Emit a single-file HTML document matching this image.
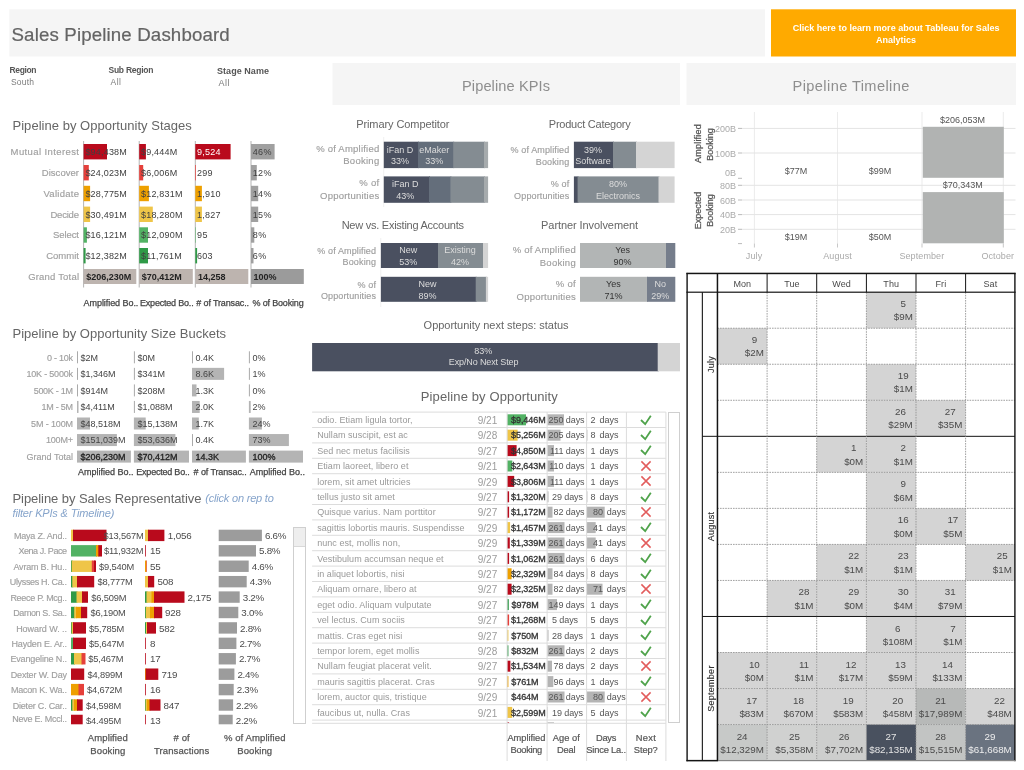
<!DOCTYPE html>
<html lang="en">
<head>
<meta charset="utf-8">
<title>Sales Pipeline Dashboard</title>
<style>
html,body{margin:0;padding:0;background:#fff}
body{width:1024px;height:770px;position:relative;overflow:hidden;font-family:"Liberation Sans",sans-serif;color:#555}
div,span,svg,section{position:absolute;display:block}
section{left:0;top:0;width:1024px;height:770px}
span{white-space:nowrap}
</style>
</head>
<body>
<svg class="marks" width="1024" height="770" viewBox="0 0 1024 770" style="left:0;top:0" aria-hidden="true">
<rect x="9.3" y="9.3" width="755.7" height="47.2" fill="#f5f5f5"/>
<rect x="771" y="9.3" width="245" height="47.2" fill="#ffaa00"/>
<rect x="332.5" y="63" width="347.5" height="42" fill="#f5f5f5"/>
<rect x="686.5" y="63" width="329.5" height="42" fill="#f5f5f5"/>
<rect x="83.1" y="141" width="1" height="146.5" fill="#b4b4b4"/>
<rect x="138.7" y="141" width="1" height="146.5" fill="#b4b4b4"/>
<rect x="194.8" y="141" width="1" height="146.5" fill="#b4b4b4"/>
<rect x="250.5" y="141" width="1" height="146.5" fill="#b4b4b4"/>
<rect x="83.6" y="144" width="23.4" height="15.4" fill="#b90a1c"/>
<rect x="139.2" y="144" width="6.7" height="15.4" fill="#b90a1c"/>
<rect x="195.3" y="144" width="35.3" height="15.4" fill="#b90a1c"/>
<rect x="251" y="144" width="23.6" height="15.4" fill="#a0a0a0"/>
<rect x="83.6" y="165" width="5.2" height="15.4" fill="#e5403b"/>
<rect x="139.2" y="165" width="4" height="15.4" fill="#e5403b"/>
<rect x="195.3" y="165" width="0.7" height="15.4" fill="#e5403b"/>
<rect x="251" y="165" width="5.8" height="15.4" fill="#a0a0a0"/>
<rect x="83.6" y="185.8" width="6.5" height="15.4" fill="#eea000"/>
<rect x="139.2" y="185.8" width="9.7" height="15.4" fill="#eea000"/>
<rect x="195.3" y="185.8" width="6.6" height="15.4" fill="#eea000"/>
<rect x="251" y="185.8" width="7.2" height="15.4" fill="#a0a0a0"/>
<rect x="83.6" y="206.6" width="6.5" height="15.4" fill="#efc548"/>
<rect x="139.2" y="206.6" width="13.6" height="15.4" fill="#efc548"/>
<rect x="195.3" y="206.6" width="6.6" height="15.4" fill="#efc548"/>
<rect x="251" y="206.6" width="7.2" height="15.4" fill="#a0a0a0"/>
<rect x="83.6" y="227.3" width="3.3" height="15.4" fill="#52b264"/>
<rect x="139.2" y="227.3" width="8.8" height="15.4" fill="#52b264"/>
<rect x="195.3" y="227.3" width="0.5" height="15.4" fill="#52b264"/>
<rect x="251" y="227.3" width="3.3" height="15.4" fill="#a0a0a0"/>
<rect x="83.6" y="248" width="2" height="15.4" fill="#2f9a47"/>
<rect x="139.2" y="248" width="8.8" height="15.4" fill="#2f9a47"/>
<rect x="195.3" y="248" width="1.8" height="15.4" fill="#2f9a47"/>
<rect x="251" y="248" width="2.5" height="15.4" fill="#a0a0a0"/>
<rect x="83.6" y="269" width="52.7" height="15" fill="#bdb4af"/>
<rect x="139.2" y="269" width="53.6" height="15" fill="#bdb4af"/>
<rect x="195.3" y="269" width="53" height="15" fill="#bdb4af"/>
<rect x="251" y="269" width="52.8" height="15" fill="#9b9b9b"/>
<rect x="77" y="351.3" width="1" height="12" fill="#aaa"/>
<rect x="133.9" y="351.3" width="1" height="12" fill="#aaa"/>
<rect x="192" y="351.3" width="1" height="12" fill="#aaa"/>
<rect x="248.9" y="351.3" width="1" height="12" fill="#aaa"/>
<rect x="77" y="367.85" width="1" height="12" fill="#aaa"/>
<rect x="133.9" y="367.85" width="1" height="12" fill="#aaa"/>
<rect x="192" y="367.85" width="32.1" height="12" fill="#b4b4b4"/>
<rect x="248.9" y="367.85" width="1" height="12" fill="#aaa"/>
<rect x="77" y="384.4" width="1" height="12" fill="#aaa"/>
<rect x="133.9" y="384.4" width="1" height="12" fill="#aaa"/>
<rect x="192" y="384.4" width="4.5" height="12" fill="#b4b4b4"/>
<rect x="248.9" y="384.4" width="1" height="12" fill="#aaa"/>
<rect x="77" y="400.95" width="1.5" height="12" fill="#b4b4b4"/>
<rect x="133.9" y="400.95" width="1" height="12" fill="#aaa"/>
<rect x="192" y="400.95" width="7.7" height="12" fill="#b4b4b4"/>
<rect x="248.9" y="400.95" width="1.8" height="12" fill="#b4b4b4"/>
<rect x="77" y="417.5" width="13" height="12" fill="#b4b4b4"/>
<rect x="133.9" y="417.5" width="11.8" height="12" fill="#b4b4b4"/>
<rect x="192" y="417.5" width="6.8" height="12" fill="#b4b4b4"/>
<rect x="248.9" y="417.5" width="13" height="12" fill="#b4b4b4"/>
<rect x="77" y="434.05" width="39.9" height="12" fill="#b4b4b4"/>
<rect x="133.9" y="434.05" width="41.5" height="12" fill="#b4b4b4"/>
<rect x="192" y="434.05" width="1" height="12" fill="#aaa"/>
<rect x="248.9" y="434.05" width="40" height="12" fill="#b4b4b4"/>
<rect x="77" y="450.6" width="53.9" height="12" fill="#b4b4b4"/>
<rect x="133.9" y="450.6" width="55.1" height="12" fill="#b4b4b4"/>
<rect x="192" y="450.6" width="53.9" height="12" fill="#b4b4b4"/>
<rect x="248.9" y="450.6" width="54.1" height="12" fill="#b4b4b4"/>
<rect x="71" y="529.7" width="3" height="11.4" fill="#efc548"/>
<rect x="73" y="529.7" width="33.5" height="11.4" fill="#b90a1c"/>
<rect x="145" y="529.7" width="4" height="11.4" fill="#efc548"/>
<rect x="148" y="529.7" width="16.4" height="11.4" fill="#b90a1c"/>
<rect x="218.7" y="529.7" width="43.2" height="11.4" fill="#9c9c9c"/>
<rect x="71" y="545.12" width="26" height="11.4" fill="#52b264"/>
<rect x="96" y="545.12" width="3.3" height="11.4" fill="#eea000"/>
<rect x="98.3" y="545.12" width="3.7" height="11.4" fill="#b90a1c"/>
<rect x="145" y="545.12" width="0.8" height="11.4" fill="#b90a1c"/>
<rect x="218.7" y="545.12" width="37.3" height="11.4" fill="#9c9c9c"/>
<rect x="71" y="560.54" width="1.7" height="11.4" fill="#2f9a47"/>
<rect x="71.7" y="560.54" width="21.1" height="11.4" fill="#efc548"/>
<rect x="91.8" y="560.54" width="3.2" height="11.4" fill="#e5403b"/>
<rect x="94" y="560.54" width="2" height="11.4" fill="#b90a1c"/>
<rect x="145" y="560.54" width="1.6" height="11.4" fill="#eea000"/>
<rect x="146" y="560.54" width="0.6" height="11.4" fill="#e5403b"/>
<rect x="218.7" y="560.54" width="30" height="11.4" fill="#9c9c9c"/>
<rect x="71" y="575.96" width="2.3" height="11.4" fill="#2f9a47"/>
<rect x="72.3" y="575.96" width="5.7" height="11.4" fill="#efc548"/>
<rect x="77" y="575.96" width="17.2" height="11.4" fill="#b90a1c"/>
<rect x="145" y="575.96" width="4" height="11.4" fill="#efc548"/>
<rect x="148" y="575.96" width="6.2" height="11.4" fill="#b90a1c"/>
<rect x="218.7" y="575.96" width="28" height="11.4" fill="#9c9c9c"/>
<rect x="71" y="591.38" width="6.5" height="11.4" fill="#2f9a47"/>
<rect x="76.5" y="591.38" width="6.5" height="11.4" fill="#efc548"/>
<rect x="82" y="591.38" width="6" height="11.4" fill="#b90a1c"/>
<rect x="145" y="591.38" width="2.5" height="11.4" fill="#2f9a47"/>
<rect x="146.5" y="591.38" width="6" height="11.4" fill="#efc548"/>
<rect x="151.5" y="591.38" width="3.5" height="11.4" fill="#eea000"/>
<rect x="154" y="591.38" width="30.5" height="11.4" fill="#b90a1c"/>
<rect x="218.7" y="591.38" width="21" height="11.4" fill="#9c9c9c"/>
<rect x="71" y="606.8" width="4.2" height="11.4" fill="#2f9a47"/>
<rect x="74.2" y="606.8" width="2.8" height="11.4" fill="#efc548"/>
<rect x="76" y="606.8" width="6" height="11.4" fill="#eea000"/>
<rect x="81" y="606.8" width="6.2" height="11.4" fill="#b90a1c"/>
<rect x="145" y="606.8" width="1.8" height="11.4" fill="#2f9a47"/>
<rect x="145.8" y="606.8" width="5.2" height="11.4" fill="#efc548"/>
<rect x="150" y="606.8" width="5" height="11.4" fill="#eea000"/>
<rect x="154" y="606.8" width="8.2" height="11.4" fill="#b90a1c"/>
<rect x="218.7" y="606.8" width="19.6" height="11.4" fill="#9c9c9c"/>
<rect x="71" y="622.22" width="1.7" height="11.4" fill="#2f9a47"/>
<rect x="71.7" y="622.22" width="2.3" height="11.4" fill="#efc548"/>
<rect x="73" y="622.22" width="13" height="11.4" fill="#b90a1c"/>
<rect x="145" y="622.22" width="2" height="11.4" fill="#2f9a47"/>
<rect x="146" y="622.22" width="2" height="11.4" fill="#efc548"/>
<rect x="147" y="622.22" width="9" height="11.4" fill="#b90a1c"/>
<rect x="218.7" y="622.22" width="18.3" height="11.4" fill="#9c9c9c"/>
<rect x="71" y="637.64" width="3" height="11.4" fill="#52b264"/>
<rect x="73" y="637.64" width="13" height="11.4" fill="#b90a1c"/>
<rect x="145" y="637.64" width="0.8" height="11.4" fill="#b90a1c"/>
<rect x="218.7" y="637.64" width="17.7" height="11.4" fill="#9c9c9c"/>
<rect x="71" y="653.06" width="4" height="11.4" fill="#2f9a47"/>
<rect x="74" y="653.06" width="8.5" height="11.4" fill="#efc548"/>
<rect x="81.5" y="653.06" width="4" height="11.4" fill="#e5403b"/>
<rect x="145" y="653.06" width="0.8" height="11.4" fill="#b90a1c"/>
<rect x="218.7" y="653.06" width="17.2" height="11.4" fill="#9c9c9c"/>
<rect x="71" y="668.48" width="13.2" height="11.4" fill="#b90a1c"/>
<rect x="145" y="668.48" width="1.6" height="11.4" fill="#eea000"/>
<rect x="145.6" y="668.48" width="12.7" height="11.4" fill="#b90a1c"/>
<rect x="218.7" y="668.48" width="15.7" height="11.4" fill="#9c9c9c"/>
<rect x="71" y="683.9" width="8.5" height="11.4" fill="#eea000"/>
<rect x="78.5" y="683.9" width="5.5" height="11.4" fill="#e5403b"/>
<rect x="145" y="683.9" width="0.8" height="11.4" fill="#b90a1c"/>
<rect x="218.7" y="683.9" width="15" height="11.4" fill="#9c9c9c"/>
<rect x="71" y="699.32" width="2.3" height="11.4" fill="#2f9a47"/>
<rect x="72.3" y="699.32" width="2.7" height="11.4" fill="#efc548"/>
<rect x="74" y="699.32" width="4" height="11.4" fill="#eea000"/>
<rect x="77" y="699.32" width="5.7" height="11.4" fill="#b90a1c"/>
<rect x="145" y="699.32" width="1.6" height="11.4" fill="#2f9a47"/>
<rect x="145.6" y="699.32" width="2.4" height="11.4" fill="#efc548"/>
<rect x="147" y="699.32" width="3.5" height="11.4" fill="#eea000"/>
<rect x="149.5" y="699.32" width="11" height="11.4" fill="#b90a1c"/>
<rect x="218.7" y="699.32" width="14.4" height="11.4" fill="#9c9c9c"/>
<rect x="71" y="714.74" width="11.7" height="9.56" fill="#b90a1c"/>
<rect x="145" y="714.74" width="0.8" height="9.56" fill="#b90a1c"/>
<rect x="218.7" y="714.74" width="14" height="9.56" fill="#9c9c9c"/>
<rect x="383.2" y="137" width="1" height="70" fill="#f0f0f0"/>
<rect x="380.3" y="238" width="1" height="69" fill="#f0f0f0"/>
<rect x="383.8" y="141.7" width="35.2" height="26.4" fill="#4a5060"/>
<rect x="418" y="141.7" width="36.2" height="26.4" fill="#646e7b"/>
<rect x="453.2" y="141.7" width="31.8" height="26.4" fill="#848c92"/>
<rect x="484" y="141.7" width="4.1" height="26.4" fill="#a6abad"/>
<rect x="383.8" y="176.4" width="46.2" height="26.4" fill="#4a5060"/>
<rect x="429" y="176.4" width="22.4" height="26.4" fill="#646e7b"/>
<rect x="450.4" y="176.4" width="34.6" height="26.4" fill="#848c92"/>
<rect x="484" y="176.4" width="4.1" height="26.4" fill="#a6abad"/>
<rect x="573.9" y="141.7" width="40.1" height="26.4" fill="#4a5060"/>
<rect x="613" y="141.7" width="24" height="26.4" fill="#848c92"/>
<rect x="636" y="141.7" width="38.6" height="26.4" fill="#d4d4d4"/>
<rect x="573.9" y="176.4" width="4.7" height="26.4" fill="#4a5060"/>
<rect x="577.6" y="176.4" width="81.9" height="26.4" fill="#848c92"/>
<rect x="658.5" y="176.4" width="16.1" height="26.4" fill="#d4d4d4"/>
<rect x="380.9" y="243" width="58.1" height="25" fill="#4a5060"/>
<rect x="438" y="243" width="46" height="25" fill="#848c92"/>
<rect x="483" y="243" width="5.1" height="25" fill="#d4d4d4"/>
<rect x="380.9" y="276.8" width="95.8" height="25" fill="#4a5060"/>
<rect x="475.7" y="276.8" width="11.2" height="25" fill="#848c92"/>
<rect x="485.9" y="276.8" width="2.2" height="25" fill="#d4d4d4"/>
<rect x="580" y="243" width="87" height="25" fill="#b2b5b5"/>
<rect x="666" y="243" width="9.3" height="25" fill="#757d8b"/>
<rect x="580" y="276.8" width="68" height="25" fill="#b2b5b5"/>
<rect x="647" y="276.8" width="28.3" height="25" fill="#757d8b"/>
<rect x="312.1" y="343" width="346.6" height="28.3" fill="#4a5060"/>
<rect x="657.7" y="343" width="22.3" height="28.3" fill="#d4d4d4"/>
<rect x="312.1" y="411.6" width="353.8" height="1" fill="#dcdcdc"/>
<rect x="507.1" y="414.3" width="18.9" height="11" fill="#52b264"/>
<rect x="547.3" y="414.3" width="16.7" height="11" fill="#b4b4b4"/>
<rect x="312.1" y="427" width="353.8" height="1" fill="#dcdcdc"/>
<rect x="507.1" y="429.7" width="10.5" height="11" fill="#efc548"/>
<rect x="547.3" y="429.7" width="13.2" height="11" fill="#b4b4b4"/>
<rect x="586.7" y="429.7" width="0.7" height="11" fill="#b4b4b4"/>
<rect x="312.1" y="442.4" width="353.8" height="1" fill="#dcdcdc"/>
<rect x="507.1" y="445.1" width="9.5" height="11" fill="#b90a1c"/>
<rect x="547.3" y="445.1" width="6.7" height="11" fill="#b4b4b4"/>
<rect x="312.1" y="457.8" width="353.8" height="1" fill="#dcdcdc"/>
<rect x="507.1" y="460.5" width="5.2" height="11" fill="#52b264"/>
<rect x="547.3" y="460.5" width="6.7" height="11" fill="#b4b4b4"/>
<rect x="312.1" y="473.2" width="353.8" height="1" fill="#dcdcdc"/>
<rect x="507.1" y="475.9" width="7.1" height="11" fill="#b90a1c"/>
<rect x="547.3" y="475.9" width="6.7" height="11" fill="#b4b4b4"/>
<rect x="312.1" y="488.6" width="353.8" height="1" fill="#dcdcdc"/>
<rect x="507.1" y="491.3" width="2" height="11" fill="#b90a1c"/>
<rect x="547.3" y="491.3" width="1.2" height="11" fill="#b4b4b4"/>
<rect x="586.7" y="491.3" width="0.7" height="11" fill="#b4b4b4"/>
<rect x="312.1" y="504" width="353.8" height="1" fill="#dcdcdc"/>
<rect x="507.1" y="506.7" width="2" height="11" fill="#b90a1c"/>
<rect x="547.3" y="506.7" width="5.2" height="11" fill="#b4b4b4"/>
<rect x="586.7" y="506.7" width="18" height="11" fill="#b4b4b4"/>
<rect x="312.1" y="519.4" width="353.8" height="1" fill="#dcdcdc"/>
<rect x="507.1" y="522.1" width="3" height="11" fill="#efc548"/>
<rect x="547.3" y="522.1" width="17.2" height="11" fill="#b4b4b4"/>
<rect x="586.7" y="522.1" width="9" height="11" fill="#b4b4b4"/>
<rect x="312.1" y="534.8" width="353.8" height="1" fill="#dcdcdc"/>
<rect x="507.1" y="537.5" width="2.7" height="11" fill="#b90a1c"/>
<rect x="547.3" y="537.5" width="17.2" height="11" fill="#b4b4b4"/>
<rect x="586.7" y="537.5" width="9" height="11" fill="#b4b4b4"/>
<rect x="312.1" y="550.2" width="353.8" height="1" fill="#dcdcdc"/>
<rect x="507.1" y="552.9" width="2" height="11" fill="#b90a1c"/>
<rect x="547.3" y="552.9" width="17.2" height="11" fill="#b4b4b4"/>
<rect x="586.7" y="552.9" width="0.3" height="11" fill="#b4b4b4"/>
<rect x="312.1" y="565.6" width="353.8" height="1" fill="#dcdcdc"/>
<rect x="507.1" y="568.3" width="4.5" height="11" fill="#eea000"/>
<rect x="547.3" y="568.3" width="5.2" height="11" fill="#b4b4b4"/>
<rect x="586.7" y="568.3" width="0.7" height="11" fill="#b4b4b4"/>
<rect x="312.1" y="581" width="353.8" height="1" fill="#dcdcdc"/>
<rect x="507.1" y="583.7" width="4.5" height="11" fill="#b90a1c"/>
<rect x="547.3" y="583.7" width="5.2" height="11" fill="#b4b4b4"/>
<rect x="586.7" y="583.7" width="15.8" height="11" fill="#b4b4b4"/>
<rect x="312.1" y="596.4" width="353.8" height="1" fill="#dcdcdc"/>
<rect x="507.1" y="599.1" width="1.7" height="11" fill="#2f9a47"/>
<rect x="547.3" y="599.1" width="9.7" height="11" fill="#b4b4b4"/>
<rect x="312.1" y="611.8" width="353.8" height="1" fill="#dcdcdc"/>
<rect x="507.1" y="614.5" width="2" height="11" fill="#e5403b"/>
<rect x="586.7" y="614.5" width="0.3" height="11" fill="#b4b4b4"/>
<rect x="312.1" y="627.2" width="353.8" height="1" fill="#dcdcdc"/>
<rect x="507.1" y="629.9" width="1.3" height="11" fill="#efc548"/>
<rect x="547.3" y="629.9" width="1.2" height="11" fill="#b4b4b4"/>
<rect x="312.1" y="642.6" width="353.8" height="1" fill="#dcdcdc"/>
<rect x="507.1" y="645.3" width="1.3" height="11" fill="#2f9a47"/>
<rect x="547.3" y="645.3" width="17.2" height="11" fill="#b4b4b4"/>
<rect x="312.1" y="658" width="353.8" height="1" fill="#dcdcdc"/>
<rect x="507.1" y="660.7" width="3.3" height="11" fill="#b90a1c"/>
<rect x="547.3" y="660.7" width="4.7" height="11" fill="#b4b4b4"/>
<rect x="312.1" y="673.4" width="353.8" height="1" fill="#dcdcdc"/>
<rect x="507.1" y="676.1" width="1.3" height="11" fill="#eea000"/>
<rect x="547.3" y="676.1" width="6" height="11" fill="#b4b4b4"/>
<rect x="312.1" y="688.8" width="353.8" height="1" fill="#dcdcdc"/>
<rect x="547.3" y="691.5" width="17.2" height="11" fill="#b4b4b4"/>
<rect x="586.7" y="691.5" width="18" height="11" fill="#b4b4b4"/>
<rect x="312.1" y="704.2" width="353.8" height="1" fill="#dcdcdc"/>
<rect x="507.1" y="706.9" width="5.1" height="11" fill="#efc548"/>
<rect x="547.3" y="706.9" width="0.5" height="11" fill="#b4b4b4"/>
<rect x="586.7" y="706.9" width="0.3" height="11" fill="#b4b4b4"/>
<rect x="312.1" y="719.6" width="353.8" height="1" fill="#dcdcdc"/>
<rect x="507.1" y="722.3" width="2" height="0.7" fill="#b90a1c"/>
<rect x="547.3" y="722.3" width="6.7" height="0.7" fill="#b4b4b4"/>
<rect x="586.7" y="722.3" width="0.3" height="0.7" fill="#b4b4b4"/>
<rect x="312.1" y="722.8" width="353.8" height="1" fill="#dcdcdc"/>
<rect x="506.6" y="412" width="1" height="349" fill="#dcdcdc"/>
<rect x="546.6" y="412" width="1" height="349" fill="#dcdcdc"/>
<rect x="586.1" y="412" width="1" height="349" fill="#dcdcdc"/>
<rect x="625.9" y="412" width="1" height="349" fill="#dcdcdc"/>
<rect x="665.4" y="412" width="1" height="349" fill="#dcdcdc"/>
<rect x="753.9" y="112" width="1" height="131.5" fill="#ececec"/>
<rect x="753.9" y="243.5" width="1" height="4" fill="#c8c8c8"/>
<rect x="837" y="112" width="1" height="131.5" fill="#ececec"/>
<rect x="837" y="243.5" width="1" height="4" fill="#c8c8c8"/>
<rect x="921.5" y="112" width="1" height="131.5" fill="#ececec"/>
<rect x="921.5" y="243.5" width="1" height="4" fill="#c8c8c8"/>
<rect x="1002.8" y="112" width="1" height="131.5" fill="#ececec"/>
<rect x="1002.8" y="243.5" width="1" height="4" fill="#c8c8c8"/>
<rect x="742" y="127.9" width="273.5" height="1" fill="#e4e4e4"/>
<rect x="738" y="127.9" width="4" height="1" fill="#bbb"/>
<rect x="742" y="152.5" width="273.5" height="1" fill="#e4e4e4"/>
<rect x="738" y="152.5" width="4" height="1" fill="#bbb"/>
<rect x="738" y="177.8" width="4" height="1" fill="#bbb"/>
<rect x="742" y="184.8" width="273.5" height="1" fill="#e4e4e4"/>
<rect x="738" y="184.8" width="4" height="1" fill="#bbb"/>
<rect x="742" y="199.5" width="273.5" height="1" fill="#e4e4e4"/>
<rect x="738" y="199.5" width="4" height="1" fill="#bbb"/>
<rect x="742" y="214.1" width="273.5" height="1" fill="#e4e4e4"/>
<rect x="738" y="214.1" width="4" height="1" fill="#bbb"/>
<rect x="742" y="228.8" width="273.5" height="1" fill="#e4e4e4"/>
<rect x="738" y="228.8" width="4" height="1" fill="#bbb"/>
<rect x="738" y="243.1" width="4" height="1" fill="#bbb"/>
<rect x="922.8" y="126.8" width="81" height="51" fill="#b1b3b2"/>
<rect x="922.8" y="192.1" width="81" height="51.2" fill="#b1b3b2"/>
<rect x="866.4" y="292.2" width="49.6" height="36.03" fill="#d4d4d4"/>
<rect x="717.4" y="328.23" width="49.7" height="36.03" fill="#d4d4d4"/>
<rect x="866.4" y="364.26" width="49.6" height="36.03" fill="#d4d4d4"/>
<rect x="866.4" y="400.29" width="49.6" height="36.03" fill="#d4d4d4"/>
<rect x="916" y="400.29" width="49.6" height="36.03" fill="#d4d4d4"/>
<rect x="816.7" y="436.32" width="49.7" height="36.03" fill="#d4d4d4"/>
<rect x="866.4" y="436.32" width="49.6" height="36.03" fill="#d4d4d4"/>
<rect x="866.4" y="472.35" width="49.6" height="36.03" fill="#d4d4d4"/>
<rect x="866.4" y="508.38" width="49.6" height="36.03" fill="#d4d4d4"/>
<rect x="916" y="508.38" width="49.6" height="36.03" fill="#d4d4d4"/>
<rect x="816.7" y="544.41" width="49.7" height="36.03" fill="#d4d4d4"/>
<rect x="866.4" y="544.41" width="49.6" height="36.03" fill="#d4d4d4"/>
<rect x="965.6" y="544.41" width="49.4" height="36.03" fill="#d4d4d4"/>
<rect x="767.1" y="580.44" width="49.6" height="36.03" fill="#d4d4d4"/>
<rect x="816.7" y="580.44" width="49.7" height="36.03" fill="#d4d4d4"/>
<rect x="866.4" y="580.44" width="49.6" height="36.03" fill="#d4d4d4"/>
<rect x="916" y="580.44" width="49.6" height="36.03" fill="#d4d4d4"/>
<rect x="866.4" y="616.47" width="49.6" height="36.03" fill="#d4d4d4"/>
<rect x="916" y="616.47" width="49.6" height="36.03" fill="#d4d4d4"/>
<rect x="717.4" y="652.5" width="49.7" height="36.03" fill="#d4d4d4"/>
<rect x="767.1" y="652.5" width="49.6" height="36.03" fill="#d4d4d4"/>
<rect x="816.7" y="652.5" width="49.7" height="36.03" fill="#d4d4d4"/>
<rect x="866.4" y="652.5" width="49.6" height="36.03" fill="#d4d4d4"/>
<rect x="916" y="652.5" width="49.6" height="36.03" fill="#d4d4d4"/>
<rect x="717.4" y="688.53" width="49.7" height="36.03" fill="#d4d4d4"/>
<rect x="767.1" y="688.53" width="49.6" height="36.03" fill="#d4d4d4"/>
<rect x="816.7" y="688.53" width="49.7" height="36.03" fill="#d4d4d4"/>
<rect x="866.4" y="688.53" width="49.6" height="36.03" fill="#d4d4d4"/>
<rect x="916" y="688.53" width="49.6" height="36.03" fill="#b7b9b8"/>
<rect x="965.6" y="688.53" width="49.4" height="36.03" fill="#d4d4d4"/>
<rect x="717.4" y="724.56" width="49.7" height="36.03" fill="#c7c9c8"/>
<rect x="767.1" y="724.56" width="49.6" height="36.03" fill="#d0d1d0"/>
<rect x="816.7" y="724.56" width="49.7" height="36.03" fill="#cdcecd"/>
<rect x="866.4" y="724.56" width="49.6" height="36.03" fill="#49515f"/>
<rect x="916" y="724.56" width="49.6" height="36.03" fill="#c2c4c3"/>
<rect x="965.6" y="724.56" width="49.4" height="36.03" fill="#6a7380"/>
<path d="M717.4 328.23 H1015" stroke="#909090" stroke-width="0.85" stroke-dasharray="1.6 1" fill="none"/>
<path d="M717.4 364.26 H1015" stroke="#909090" stroke-width="0.85" stroke-dasharray="1.6 1" fill="none"/>
<path d="M717.4 400.29 H1015" stroke="#909090" stroke-width="0.85" stroke-dasharray="1.6 1" fill="none"/>
<rect x="702.3" y="435.82" width="312.7" height="1" fill="#141414"/>
<path d="M717.4 472.35 H1015" stroke="#909090" stroke-width="0.85" stroke-dasharray="1.6 1" fill="none"/>
<path d="M717.4 508.38 H1015" stroke="#909090" stroke-width="0.85" stroke-dasharray="1.6 1" fill="none"/>
<path d="M717.4 544.41 H1015" stroke="#909090" stroke-width="0.85" stroke-dasharray="1.6 1" fill="none"/>
<path d="M717.4 580.44 H1015" stroke="#909090" stroke-width="0.85" stroke-dasharray="1.6 1" fill="none"/>
<rect x="702.3" y="615.97" width="312.7" height="1" fill="#141414"/>
<path d="M717.4 652.5 H1015" stroke="#909090" stroke-width="0.85" stroke-dasharray="1.6 1" fill="none"/>
<path d="M717.4 688.53 H1015" stroke="#909090" stroke-width="0.85" stroke-dasharray="1.6 1" fill="none"/>
<path d="M717.4 724.56 H1015" stroke="#909090" stroke-width="0.85" stroke-dasharray="1.6 1" fill="none"/>
<path d="M767.1 292.2 V760.59" stroke="#909090" stroke-width="0.85" stroke-dasharray="1.6 1" fill="none"/>
<rect x="766.6" y="273.4" width="1" height="18.8" fill="#141414"/>
<path d="M816.7 292.2 V760.59" stroke="#909090" stroke-width="0.85" stroke-dasharray="1.6 1" fill="none"/>
<rect x="816.2" y="273.4" width="1" height="18.8" fill="#141414"/>
<path d="M866.4 292.2 V760.59" stroke="#909090" stroke-width="0.85" stroke-dasharray="1.6 1" fill="none"/>
<rect x="865.9" y="273.4" width="1" height="18.8" fill="#141414"/>
<path d="M916 292.2 V760.59" stroke="#909090" stroke-width="0.85" stroke-dasharray="1.6 1" fill="none"/>
<rect x="915.5" y="273.4" width="1" height="18.8" fill="#141414"/>
<path d="M965.6 292.2 V760.59" stroke="#909090" stroke-width="0.85" stroke-dasharray="1.6 1" fill="none"/>
<rect x="965.1" y="273.4" width="1" height="18.8" fill="#141414"/>
<rect x="686.4" y="272.9" width="1.4" height="488.29" fill="#141414"/>
<rect x="1014.2" y="272.9" width="1.4" height="488.29" fill="#141414"/>
<rect x="686.4" y="272.7" width="329.2" height="1.5" fill="#141414"/>
<rect x="686.4" y="291.6" width="329.2" height="1.2" fill="#141414"/>
<rect x="686.4" y="759.89" width="31.7" height="1.5" fill="#141414"/>
<rect x="718.1" y="759.99" width="297.5" height="1.2" fill="#848484"/>
<rect x="701.8" y="292.2" width="1.1" height="468.39" fill="#141414"/>
<rect x="716.7" y="273" width="1.5" height="487.59" fill="#141414"/>
</svg>
<section aria-label="header">
<span style="top:26px;left:11.5px;font-size:18.7px;line-height:18.7px;color:#646464;letter-spacing:0.14px;-webkit-text-stroke:0.2px #646464">Sales Pipeline Dashboard</span>
<span style="top:24px;left:792.65px;font-size:9px;line-height:9px;color:#fff;font-weight:bold;letter-spacing:0.02px">Click here to learn more about Tableau for Sales</span>
<span style="top:36px;left:876px;font-size:9px;line-height:9px;color:#fff;font-weight:bold">Analytics</span>
<span style="top:66px;left:9.5px;font-size:8.5px;line-height:8.5px;font-weight:bold;letter-spacing:-0.36px">Region</span>
<span style="top:78px;left:11px;font-size:8.5px;line-height:8.5px;color:#7c7c7c;letter-spacing:0.2px">South</span>
<span style="top:66px;left:108.5px;font-size:8.5px;line-height:8.5px;font-weight:bold;letter-spacing:-0.25px">Sub Region</span>
<span style="top:78px;left:110.5px;font-size:8.5px;line-height:8.5px;color:#7c7c7c;letter-spacing:0.53px">All</span>
<span style="top:67px;left:217px;font-size:9px;line-height:9px;font-weight:bold;letter-spacing:0.05px">Stage Name</span>
<span style="top:79px;left:218.5px;font-size:9px;line-height:9px;color:#7c7c7c;letter-spacing:0.5px">All</span>
<span style="top:79px;left:462px;font-size:14.6px;line-height:14.6px;color:#8e8e8e;letter-spacing:0.1px">Pipeline KPIs</span>
<span style="top:79px;left:792.5px;font-size:14.6px;line-height:14.6px;color:#8e8e8e;letter-spacing:0.41px">Pipeline Timeline</span>
</section>
<section aria-label="stages">
<span style="top:119px;left:12.5px;font-size:13px;line-height:13px;color:#666;letter-spacing:0.03px">Pipeline by Opportunity Stages</span>
<span style="top:147px;right:944.6px;font-size:9.5px;line-height:9.5px;color:#a0a0a0;letter-spacing:0.4px;-webkit-text-stroke:0.15px #a0a0a0">Mutual Interest</span>
<span style="top:148px;left:85.4px;font-size:9px;line-height:9px;color:#404040;letter-spacing:0.2px">$94,438M</span>
<span style="top:148px;left:141px;font-size:9px;line-height:9px;color:#404040;letter-spacing:0.2px">$9,444M</span>
<span style="top:148px;left:197.1px;font-size:9px;line-height:9px;color:#fff;letter-spacing:0.2px">9,524</span>
<span style="top:148px;left:252.8px;font-size:9px;line-height:9px;color:#404040;letter-spacing:0.32px">46%</span>
<span style="top:168px;right:944.96px;font-size:9.5px;line-height:9.5px;color:#a0a0a0;letter-spacing:0.04px;-webkit-text-stroke:0.15px #a0a0a0">Discover</span>
<span style="top:169px;left:85.4px;font-size:9px;line-height:9px;color:#404040;letter-spacing:0.2px">$24,023M</span>
<span style="top:169px;left:141px;font-size:9px;line-height:9px;color:#404040;letter-spacing:0.2px">$6,006M</span>
<span style="top:169px;left:197.1px;font-size:9px;line-height:9px;color:#404040;letter-spacing:0.26px">299</span>
<span style="top:169px;left:252.8px;font-size:9px;line-height:9px;color:#404040;letter-spacing:0.32px">12%</span>
<span style="top:189px;right:944.72px;font-size:9.5px;line-height:9.5px;color:#a0a0a0;letter-spacing:0.28px;-webkit-text-stroke:0.15px #a0a0a0">Validate</span>
<span style="top:190px;left:85.4px;font-size:9px;line-height:9px;color:#404040;letter-spacing:0.2px">$28,775M</span>
<span style="top:190px;left:141px;font-size:9px;line-height:9px;color:#404040;letter-spacing:0.2px">$12,831M</span>
<span style="top:190px;left:197.1px;font-size:9px;line-height:9px;color:#404040;letter-spacing:0.2px">1,910</span>
<span style="top:190px;left:252.8px;font-size:9px;line-height:9px;color:#404040;letter-spacing:0.32px">14%</span>
<span style="top:210px;right:945.19px;font-size:9.5px;line-height:9.5px;color:#a0a0a0;letter-spacing:-0.19px;-webkit-text-stroke:0.15px #a0a0a0">Decide</span>
<span style="top:211px;left:85.4px;font-size:9px;line-height:9px;color:#404040;letter-spacing:0.2px">$30,491M</span>
<span style="top:211px;left:141px;font-size:9px;line-height:9px;color:#404040;letter-spacing:0.2px">$18,280M</span>
<span style="top:211px;left:197.1px;font-size:9px;line-height:9px;color:#404040;letter-spacing:0.2px">1,827</span>
<span style="top:211px;left:252.8px;font-size:9px;line-height:9px;color:#404040;letter-spacing:0.32px">15%</span>
<span style="top:230px;right:945.06px;font-size:9.5px;line-height:9.5px;color:#a0a0a0;letter-spacing:-0.06px;-webkit-text-stroke:0.15px #a0a0a0">Select</span>
<span style="top:231px;left:85.4px;font-size:9px;line-height:9px;color:#404040;letter-spacing:0.2px">$16,121M</span>
<span style="top:231px;left:141px;font-size:9px;line-height:9px;color:#404040;letter-spacing:0.2px">$12,090M</span>
<span style="top:231px;left:197.1px;font-size:9px;line-height:9px;color:#404040;letter-spacing:0.35px">95</span>
<span style="top:231px;left:252.8px;font-size:9px;line-height:9px;color:#404040;letter-spacing:0.46px">8%</span>
<span style="top:251px;right:944.98px;font-size:9.5px;line-height:9.5px;color:#a0a0a0;letter-spacing:0.02px;-webkit-text-stroke:0.15px #a0a0a0">Commit</span>
<span style="top:252px;left:85.4px;font-size:9px;line-height:9px;color:#404040;letter-spacing:0.2px">$12,382M</span>
<span style="top:252px;left:141px;font-size:9px;line-height:9px;color:#404040;letter-spacing:0.2px">$11,761M</span>
<span style="top:252px;left:197.1px;font-size:9px;line-height:9px;color:#404040;letter-spacing:0.26px">603</span>
<span style="top:252px;left:252.8px;font-size:9px;line-height:9px;color:#404040;letter-spacing:0.46px">6%</span>
<span style="top:272px;right:944.81px;font-size:9.5px;line-height:9.5px;color:#a0a0a0;letter-spacing:0.19px;-webkit-text-stroke:0.15px #a0a0a0">Grand Total</span>
<span style="top:273px;left:86.2px;font-size:9px;line-height:9px;color:#222;font-weight:bold">$206,230M</span>
<span style="top:273px;left:141.8px;font-size:9px;line-height:9px;color:#222;font-weight:bold">$70,412M</span>
<span style="top:273px;left:197.9px;font-size:9px;line-height:9px;color:#222;font-weight:bold">14,258</span>
<span style="top:273px;left:253.6px;font-size:9px;line-height:9px;color:#222;font-weight:bold">100%</span>
<span style="top:299px;left:83.6px;font-size:9px;line-height:9px;color:#444;letter-spacing:-0.06px;-webkit-text-stroke:0.25px #444">Amplified Bo..</span>
<span style="top:299px;left:140px;font-size:9px;line-height:9px;color:#444;letter-spacing:-0.2px;-webkit-text-stroke:0.25px #444">Expected Bo..</span>
<span style="top:299px;left:196.3px;font-size:9px;line-height:9px;color:#444;letter-spacing:-0.14px;-webkit-text-stroke:0.25px #444"># of Transac..</span>
<span style="top:299px;left:252.5px;font-size:9px;line-height:9px;color:#444;letter-spacing:-0.17px;-webkit-text-stroke:0.25px #444">% of Booking</span>
</section>
<section aria-label="size buckets">
<span style="top:327px;left:12.5px;font-size:13px;line-height:13px;color:#666;letter-spacing:0.01px">Pipeline by Opportunity Size Buckets</span>
<span style="top:354px;right:951.25px;font-size:9px;line-height:9px;color:#a0a0a0;letter-spacing:-0.25px;-webkit-text-stroke:0.15px #a0a0a0">0 - 10k</span>
<span style="top:354px;left:80.5px;font-size:9px;line-height:9px;color:#444">$2M</span>
<span style="top:354px;left:137.4px;font-size:9px;line-height:9px;color:#444">$0M</span>
<span style="top:354px;left:195.5px;font-size:9px;line-height:9px;color:#444">0.4K</span>
<span style="top:354px;left:252.4px;font-size:9px;line-height:9px;color:#444">0%</span>
<span style="top:370px;right:951.2px;font-size:9px;line-height:9px;color:#a0a0a0;letter-spacing:-0.2px;-webkit-text-stroke:0.15px #a0a0a0">10K - 5000k</span>
<span style="top:370px;left:80.5px;font-size:9px;line-height:9px;color:#444">$1,346M</span>
<span style="top:370px;left:137.4px;font-size:9px;line-height:9px;color:#444">$341M</span>
<span style="top:370px;left:195.5px;font-size:9px;line-height:9px;color:#444">8.6K</span>
<span style="top:370px;left:252.4px;font-size:9px;line-height:9px;color:#444">1%</span>
<span style="top:387px;right:951.27px;font-size:9px;line-height:9px;color:#a0a0a0;letter-spacing:-0.27px;-webkit-text-stroke:0.15px #a0a0a0">500K - 1M</span>
<span style="top:387px;left:80.5px;font-size:9px;line-height:9px;color:#444">$914M</span>
<span style="top:387px;left:137.4px;font-size:9px;line-height:9px;color:#444">$208M</span>
<span style="top:387px;left:195.5px;font-size:9px;line-height:9px;color:#444">1.3K</span>
<span style="top:387px;left:252.4px;font-size:9px;line-height:9px;color:#444">0%</span>
<span style="top:403px;right:951.25px;font-size:9px;line-height:9px;color:#a0a0a0;letter-spacing:-0.25px;-webkit-text-stroke:0.15px #a0a0a0">1M - 5M</span>
<span style="top:403px;left:80.5px;font-size:9px;line-height:9px;color:#444">$4,411M</span>
<span style="top:403px;left:137.4px;font-size:9px;line-height:9px;color:#444">$1,088M</span>
<span style="top:403px;left:195.5px;font-size:9px;line-height:9px;color:#444">2.0K</span>
<span style="top:403px;left:252.4px;font-size:9px;line-height:9px;color:#444">2%</span>
<span style="top:420px;right:951.14px;font-size:9px;line-height:9px;color:#a0a0a0;letter-spacing:-0.14px;-webkit-text-stroke:0.15px #a0a0a0">5M - 100M</span>
<span style="top:420px;left:80.5px;font-size:9px;line-height:9px;color:#444">$48,518M</span>
<span style="top:420px;left:137.4px;font-size:9px;line-height:9px;color:#444">$15,138M</span>
<span style="top:420px;left:195.5px;font-size:9px;line-height:9px;color:#444">1.7K</span>
<span style="top:420px;left:252.4px;font-size:9px;line-height:9px;color:#444">24%</span>
<span style="top:436px;right:951.19px;font-size:9px;line-height:9px;color:#a0a0a0;letter-spacing:-0.19px;-webkit-text-stroke:0.15px #a0a0a0">100M+</span>
<span style="top:436px;left:80.5px;font-size:9px;line-height:9px;color:#444">$151,039M</span>
<span style="top:436px;left:137.4px;font-size:9px;line-height:9px;color:#444">$53,636M</span>
<span style="top:436px;left:195.5px;font-size:9px;line-height:9px;color:#444">0.4K</span>
<span style="top:436px;left:252.4px;font-size:9px;line-height:9px;color:#444">73%</span>
<span style="top:453px;right:950.99px;font-size:9px;line-height:9px;color:#a0a0a0;letter-spacing:0.01px;-webkit-text-stroke:0.15px #a0a0a0">Grand Total</span>
<span style="top:453px;left:80.5px;font-size:9px;line-height:9px;color:#222;-webkit-text-stroke:0.3px #222">$206,230M</span>
<span style="top:453px;left:137.4px;font-size:9px;line-height:9px;color:#222;-webkit-text-stroke:0.3px #222">$70,412M</span>
<span style="top:453px;left:195.5px;font-size:9px;line-height:9px;color:#222;-webkit-text-stroke:0.3px #222">14.3K</span>
<span style="top:453px;left:252.4px;font-size:9px;line-height:9px;color:#222;-webkit-text-stroke:0.3px #222">100%</span>
<span style="top:468px;left:78px;font-size:9px;line-height:9px;color:#444;-webkit-text-stroke:0.25px #444">Amplified Bo..</span>
<span style="top:468px;left:136.3px;font-size:9px;line-height:9px;color:#444;letter-spacing:-0.22px;-webkit-text-stroke:0.25px #444">Expected Bo..</span>
<span style="top:468px;left:193.6px;font-size:9px;line-height:9px;color:#444;letter-spacing:-0.11px;-webkit-text-stroke:0.25px #444"># of Transac..</span>
<span style="top:468px;left:249.8px;font-size:9px;line-height:9px;color:#444;letter-spacing:-0.03px;-webkit-text-stroke:0.25px #444">Amplified Bo..</span>
</section>
<section aria-label="sales reps">
<span style="top:492px;left:12.5px;font-size:13px;line-height:13px;color:#666;letter-spacing:-0.06px">Pipeline by Sales Representative</span>
<span style="top:493px;left:205.3px;font-size:11px;line-height:11px;color:#86a4cb;font-style:italic;letter-spacing:-0.2px">(click on rep to</span>
<span style="top:508px;left:12.5px;font-size:11px;line-height:11px;color:#86a4cb;font-style:italic;letter-spacing:-0.17px">filter KPIs &amp; Timeline)</span>
<div style="left:0;top:526px;width:292px;height:198.3px;overflow:hidden"><div style="left:0;top:-526px;width:1024px;height:770px">
<span style="top:532px;right:957.2px;font-size:9px;line-height:9px;color:#a0a0a0;letter-spacing:-0.2px;-webkit-text-stroke:0.15px #a0a0a0">Maya Z. And..</span>
<span style="top:532px;left:103.5px;font-size:9.3px;line-height:9.3px;color:#4c4c4c;letter-spacing:-0.16px">$13,567M</span>
<span style="top:531px;left:167.8px;font-size:9.8px;line-height:9.8px;color:#4c4c4c;letter-spacing:-0.13px">1,056</span>
<span style="top:531px;left:264.9px;font-size:9.8px;line-height:9.8px;color:#4c4c4c;letter-spacing:-0.25px">6.6%</span>
<span style="top:547px;right:957.45px;font-size:9px;line-height:9px;color:#a0a0a0;letter-spacing:-0.45px;-webkit-text-stroke:0.15px #a0a0a0">Xena J. Pace</span>
<span style="top:547px;left:104px;font-size:9.3px;line-height:9.3px;color:#4c4c4c;letter-spacing:-0.16px">$11,932M</span>
<span style="top:546px;left:150px;font-size:9.8px;line-height:9.8px;color:#4c4c4c;letter-spacing:-0.22px">15</span>
<span style="top:546px;left:259px;font-size:9.8px;line-height:9.8px;color:#4c4c4c;letter-spacing:-0.25px">5.8%</span>
<span style="top:563px;right:957.19px;font-size:9px;line-height:9px;color:#a0a0a0;letter-spacing:-0.19px;-webkit-text-stroke:0.15px #a0a0a0">Avram B. Hu..</span>
<span style="top:563px;left:99px;font-size:9.3px;line-height:9.3px;color:#4c4c4c;letter-spacing:-0.16px">$9,540M</span>
<span style="top:562px;left:150px;font-size:9.8px;line-height:9.8px;color:#4c4c4c;letter-spacing:-0.22px">55</span>
<span style="top:562px;left:251.7px;font-size:9.8px;line-height:9.8px;color:#4c4c4c;letter-spacing:-0.25px">4.6%</span>
<span style="top:578px;right:957.34px;font-size:9px;line-height:9px;color:#a0a0a0;letter-spacing:-0.34px;-webkit-text-stroke:0.15px #a0a0a0">Ulysses H. Ca..</span>
<span style="top:578px;left:97.5px;font-size:9.3px;line-height:9.3px;color:#4c4c4c;letter-spacing:-0.16px">$8,777M</span>
<span style="top:577px;left:157.5px;font-size:9.8px;line-height:9.8px;color:#4c4c4c;letter-spacing:-0.17px">508</span>
<span style="top:577px;left:249.7px;font-size:9.8px;line-height:9.8px;color:#4c4c4c;letter-spacing:-0.25px">4.3%</span>
<span style="top:594px;right:957.29px;font-size:9px;line-height:9px;color:#a0a0a0;letter-spacing:-0.29px;-webkit-text-stroke:0.15px #a0a0a0">Reece P. Mcg..</span>
<span style="top:594px;left:91.3px;font-size:9.3px;line-height:9.3px;color:#4c4c4c;letter-spacing:-0.16px">$6,509M</span>
<span style="top:593px;left:187.5px;font-size:9.8px;line-height:9.8px;color:#4c4c4c;letter-spacing:-0.13px">2,175</span>
<span style="top:593px;left:242.7px;font-size:9.8px;line-height:9.8px;color:#4c4c4c;letter-spacing:-0.25px">3.2%</span>
<span style="top:609px;right:957.39px;font-size:9px;line-height:9px;color:#a0a0a0;letter-spacing:-0.39px;-webkit-text-stroke:0.15px #a0a0a0">Damon S. Sa..</span>
<span style="top:609px;left:90.6px;font-size:9.3px;line-height:9.3px;color:#4c4c4c;letter-spacing:-0.16px">$6,190M</span>
<span style="top:608px;left:165px;font-size:9.8px;line-height:9.8px;color:#4c4c4c;letter-spacing:-0.17px">928</span>
<span style="top:608px;left:241.3px;font-size:9.8px;line-height:9.8px;color:#4c4c4c;letter-spacing:-0.25px">3.0%</span>
<span style="top:625px;right:957.06px;font-size:9px;line-height:9px;color:#a0a0a0;letter-spacing:-0.06px;-webkit-text-stroke:0.15px #a0a0a0">Howard W. ..</span>
<span style="top:625px;left:89px;font-size:9.3px;line-height:9.3px;color:#4c4c4c;letter-spacing:-0.16px">$5,785M</span>
<span style="top:624px;left:159px;font-size:9.8px;line-height:9.8px;color:#4c4c4c;letter-spacing:-0.17px">582</span>
<span style="top:624px;left:240px;font-size:9.8px;line-height:9.8px;color:#4c4c4c;letter-spacing:-0.25px">2.8%</span>
<span style="top:640px;right:957.15px;font-size:9px;line-height:9px;color:#a0a0a0;letter-spacing:-0.15px;-webkit-text-stroke:0.15px #a0a0a0">Hayden E. Ar..</span>
<span style="top:640px;left:89px;font-size:9.3px;line-height:9.3px;color:#4c4c4c;letter-spacing:-0.16px">$5,647M</span>
<span style="top:639px;left:150px;font-size:9.8px;line-height:9.8px;color:#4c4c4c;letter-spacing:-0.11px">8</span>
<span style="top:639px;left:239.4px;font-size:9.8px;line-height:9.8px;color:#4c4c4c;letter-spacing:-0.25px">2.7%</span>
<span style="top:655px;right:957.15px;font-size:9px;line-height:9px;color:#a0a0a0;letter-spacing:-0.15px;-webkit-text-stroke:0.15px #a0a0a0">Evangeline N..</span>
<span style="top:655px;left:88.3px;font-size:9.3px;line-height:9.3px;color:#4c4c4c;letter-spacing:-0.16px">$5,467M</span>
<span style="top:654px;left:150px;font-size:9.8px;line-height:9.8px;color:#4c4c4c;letter-spacing:-0.22px">17</span>
<span style="top:654px;left:238.9px;font-size:9.8px;line-height:9.8px;color:#4c4c4c;letter-spacing:-0.25px">2.7%</span>
<span style="top:671px;right:957.14px;font-size:9px;line-height:9px;color:#a0a0a0;letter-spacing:-0.14px;-webkit-text-stroke:0.15px #a0a0a0">Dexter W. Day</span>
<span style="top:671px;left:87.5px;font-size:9.3px;line-height:9.3px;color:#4c4c4c;letter-spacing:-0.16px">$4,899M</span>
<span style="top:670px;left:161.5px;font-size:9.8px;line-height:9.8px;color:#4c4c4c;letter-spacing:-0.17px">719</span>
<span style="top:670px;left:237.4px;font-size:9.8px;line-height:9.8px;color:#4c4c4c;letter-spacing:-0.25px">2.4%</span>
<span style="top:686px;right:957.22px;font-size:9px;line-height:9px;color:#a0a0a0;letter-spacing:-0.22px;-webkit-text-stroke:0.15px #a0a0a0">Macon K. Wa..</span>
<span style="top:686px;left:87px;font-size:9.3px;line-height:9.3px;color:#4c4c4c;letter-spacing:-0.16px">$4,672M</span>
<span style="top:685px;left:150px;font-size:9.8px;line-height:9.8px;color:#4c4c4c;letter-spacing:-0.22px">16</span>
<span style="top:685px;left:236.7px;font-size:9.8px;line-height:9.8px;color:#4c4c4c;letter-spacing:-0.25px">2.3%</span>
<span style="top:702px;right:957.19px;font-size:9px;line-height:9px;color:#a0a0a0;letter-spacing:-0.19px;-webkit-text-stroke:0.15px #a0a0a0">Dieter C. Car..</span>
<span style="top:702px;left:86px;font-size:9.3px;line-height:9.3px;color:#4c4c4c;letter-spacing:-0.16px">$4,598M</span>
<span style="top:701px;left:163.5px;font-size:9.8px;line-height:9.8px;color:#4c4c4c;letter-spacing:-0.17px">847</span>
<span style="top:701px;left:236.1px;font-size:9.8px;line-height:9.8px;color:#4c4c4c;letter-spacing:-0.25px">2.2%</span>
<span style="top:715px;right:957.25px;font-size:9px;line-height:9px;color:#a0a0a0;letter-spacing:-0.25px;-webkit-text-stroke:0.15px #a0a0a0">Neve E. Mccl..</span>
<span style="top:717px;left:86px;font-size:9.3px;line-height:9.3px;color:#4c4c4c;letter-spacing:-0.16px">$4,495M</span>
<span style="top:716px;left:150px;font-size:9.8px;line-height:9.8px;color:#4c4c4c;letter-spacing:-0.22px">13</span>
<span style="top:716px;left:235.7px;font-size:9.8px;line-height:9.8px;color:#4c4c4c;letter-spacing:-0.25px">2.2%</span>
</div></div>
<div style="left:293.3px;top:527px;width:12.4px;height:197.3px;background:#fff;box-sizing:border-box;border:1px solid #cfcfcf"></div>
<div style="left:294.3px;top:528px;width:10.4px;height:18.4px;background:#eee;border-bottom:1px solid #d8d8d8"></div>
<span style="top:733px;left:87.86px;font-size:9.5px;line-height:9.5px;letter-spacing:0.1px;-webkit-text-stroke:0.25px #555">Amplified</span>
<span style="top:746px;left:90.33px;font-size:9.5px;line-height:9.5px;letter-spacing:0.1px;-webkit-text-stroke:0.25px #555">Booking</span>
<span style="top:733px;left:173.53px;font-size:9.5px;line-height:9.5px;letter-spacing:0.1px;-webkit-text-stroke:0.25px #555"># of</span>
<span style="top:746px;left:154.03px;font-size:9.5px;line-height:9.5px;letter-spacing:0.1px;-webkit-text-stroke:0.25px #555">Transactions</span>
<span style="top:733px;left:223.95px;font-size:9.5px;line-height:9.5px;letter-spacing:0.1px;-webkit-text-stroke:0.25px #555">% of Amplified</span>
<span style="top:746px;left:237.23px;font-size:9.5px;line-height:9.5px;letter-spacing:0.1px;-webkit-text-stroke:0.25px #555">Booking</span>
</section>
<section aria-label="KPIs">
<span style="top:119px;left:356.14px;font-size:11px;line-height:11px;color:#666;letter-spacing:-0.08px">Primary Competitor</span>
<span style="top:144px;right:644.58px;font-size:9.5px;line-height:9.5px;color:#9e9e9e;letter-spacing:0.22px;-webkit-text-stroke:0.15px #9e9e9e">% of Amplified</span>
<span style="top:156px;right:644.53px;font-size:9.5px;line-height:9.5px;color:#9e9e9e;letter-spacing:0.27px;-webkit-text-stroke:0.15px #9e9e9e">Booking</span>
<span style="top:146px;left:386.75px;font-size:9px;line-height:9px;color:#dcdcdc">iFan D</span>
<span style="top:157px;left:390.99px;font-size:9px;line-height:9px;color:#dcdcdc">33%</span>
<span style="top:146px;left:419.29px;font-size:9px;line-height:9px;color:#dcdcdc">eMaker</span>
<span style="top:157px;left:425.29px;font-size:9px;line-height:9px;color:#dcdcdc">33%</span>
<span style="top:178px;right:644.5px;font-size:9.5px;line-height:9.5px;color:#9e9e9e;letter-spacing:0.3px;-webkit-text-stroke:0.15px #9e9e9e">% of</span>
<span style="top:191px;right:644.58px;font-size:9.5px;line-height:9.5px;color:#9e9e9e;letter-spacing:0.22px;-webkit-text-stroke:0.15px #9e9e9e">Opportunities</span>
<span style="top:180px;left:391.95px;font-size:9px;line-height:9px;color:#dcdcdc">iFan D</span>
<span style="top:192px;left:396.19px;font-size:9px;line-height:9px;color:#dcdcdc">43%</span>
<span style="top:119px;left:548.8px;font-size:11px;line-height:11px;color:#666;letter-spacing:-0.24px">Product Category</span>
<span style="top:146px;right:454.67px;font-size:9px;line-height:9px;color:#9e9e9e;letter-spacing:0.13px;-webkit-text-stroke:0.15px #9e9e9e">% of Amplified</span>
<span style="top:158px;right:454.64px;font-size:9px;line-height:9px;color:#9e9e9e;letter-spacing:0.16px;-webkit-text-stroke:0.15px #9e9e9e">Booking</span>
<span style="top:146px;left:583.99px;font-size:9px;line-height:9px;color:#dcdcdc">39%</span>
<span style="top:157px;left:575.24px;font-size:9px;line-height:9px;color:#dcdcdc">Software</span>
<span style="top:180px;right:454.62px;font-size:9px;line-height:9px;color:#9e9e9e;letter-spacing:0.18px;-webkit-text-stroke:0.15px #9e9e9e">% of</span>
<span style="top:192px;right:454.67px;font-size:9px;line-height:9px;color:#9e9e9e;letter-spacing:0.13px;-webkit-text-stroke:0.15px #9e9e9e">Opportunities</span>
<span style="top:180px;left:608.99px;font-size:9px;line-height:9px;color:#dcdcdc">80%</span>
<span style="top:192px;left:595.99px;font-size:9px;line-height:9px;color:#dcdcdc">Electronics</span>
<span style="top:220px;left:341.65px;font-size:11px;line-height:11px;color:#666;letter-spacing:-0.25px">New vs. Existing Accounts</span>
<span style="top:247px;right:647.87px;font-size:9px;line-height:9px;color:#9e9e9e;letter-spacing:0.13px;-webkit-text-stroke:0.15px #9e9e9e">% of Amplified</span>
<span style="top:258px;right:647.84px;font-size:9px;line-height:9px;color:#9e9e9e;letter-spacing:0.16px;-webkit-text-stroke:0.15px #9e9e9e">Booking</span>
<span style="top:246px;left:399.3px;font-size:9px;line-height:9px;color:#dcdcdc">New</span>
<span style="top:258px;left:399.29px;font-size:9px;line-height:9px;color:#dcdcdc">53%</span>
<span style="top:246px;left:444.24px;font-size:9px;line-height:9px;color:#dcdcdc">Existing</span>
<span style="top:258px;left:450.99px;font-size:9px;line-height:9px;color:#dcdcdc">42%</span>
<span style="top:281px;right:647.82px;font-size:9px;line-height:9px;color:#9e9e9e;letter-spacing:0.18px;-webkit-text-stroke:0.15px #9e9e9e">% of</span>
<span style="top:292px;right:647.87px;font-size:9px;line-height:9px;color:#9e9e9e;letter-spacing:0.13px;-webkit-text-stroke:0.15px #9e9e9e">Opportunities</span>
<span style="top:280px;left:418.4px;font-size:9px;line-height:9px;color:#dcdcdc">New</span>
<span style="top:292px;left:418.39px;font-size:9px;line-height:9px;color:#dcdcdc">89%</span>
<span style="top:220px;left:541.12px;font-size:11px;line-height:11px;color:#666;letter-spacing:-0.08px">Partner Involvement</span>
<span style="top:245px;right:448.08px;font-size:9.5px;line-height:9.5px;color:#9e9e9e;letter-spacing:0.22px;-webkit-text-stroke:0.15px #9e9e9e">% of Amplified</span>
<span style="top:258px;right:448.03px;font-size:9.5px;line-height:9.5px;color:#9e9e9e;letter-spacing:0.27px;-webkit-text-stroke:0.15px #9e9e9e">Booking</span>
<span style="top:246px;left:615.26px;font-size:9px;line-height:9px;color:#333">Yes</span>
<span style="top:258px;left:613.59px;font-size:9px;line-height:9px;color:#333">90%</span>
<span style="top:279px;right:448px;font-size:9.5px;line-height:9.5px;color:#9e9e9e;letter-spacing:0.3px;-webkit-text-stroke:0.15px #9e9e9e">% of</span>
<span style="top:292px;right:448.08px;font-size:9.5px;line-height:9.5px;color:#9e9e9e;letter-spacing:0.22px;-webkit-text-stroke:0.15px #9e9e9e">Opportunities</span>
<span style="top:280px;left:606.06px;font-size:9px;line-height:9px;color:#333">Yes</span>
<span style="top:292px;left:604.39px;font-size:9px;line-height:9px;color:#333">71%</span>
<span style="top:280px;left:654.55px;font-size:9px;line-height:9px;color:#dcdcdc">No</span>
<span style="top:292px;left:651.29px;font-size:9px;line-height:9px;color:#dcdcdc">29%</span>
<span style="top:320px;left:423.6px;font-size:11px;line-height:11px;color:#666;letter-spacing:-0.02px">Opportunity next steps: status</span>
<span style="top:347px;left:474.29px;font-size:9px;line-height:9px;color:#dcdcdc">83%</span>
<span style="top:358px;left:448.8px;font-size:9px;line-height:9px;color:#dcdcdc;letter-spacing:-0.13px">Exp/No Next Step</span>
</section>
<section aria-label="opportunity table">
<span style="top:390px;left:420.8px;font-size:13px;line-height:13px;color:#666;letter-spacing:0.12px">Pipeline by Opportunity</span>
<div style="left:300px;top:411px;width:390px;height:312px;overflow:hidden"><div style="left:-300px;top:-411px;width:1024px;height:770px">
<span style="top:416px;left:317.2px;font-size:9px;line-height:9px;color:#999;letter-spacing:0.05px">odio. Etiam ligula tortor,</span>
<span style="top:416px;right:526.83px;font-size:10px;line-height:10px;color:#9c9c9c;letter-spacing:-0.03px">9/21</span>
<span style="top:416px;left:511.02px;font-size:9px;line-height:9px;color:#333;letter-spacing:-0.06px;-webkit-text-stroke:0.3px #333">$9,446M</span>
<span style="top:416px;left:548.62px;font-size:9px;line-height:9px;letter-spacing:-0.08px">250 days</span>
<span style="top:416px;left:590.6px;font-size:9px;line-height:9px">2</span>
<span style="top:416px;left:599.6px;font-size:9px;line-height:9px">days</span>
<svg style="left:640.2px;top:413.5px" width="12" height="12" viewBox="0 0 12 12"><path d="M1 6 L5.2 10.2 L10.8 1.8" fill="none" stroke="#4fa34b" stroke-width="1.8"/></svg>
<span style="top:431px;left:317.2px;font-size:9px;line-height:9px;color:#999;letter-spacing:0.05px">Nullam suscipit, est ac</span>
<span style="top:431px;right:526.83px;font-size:10px;line-height:10px;color:#9c9c9c;letter-spacing:-0.03px">9/28</span>
<span style="top:431px;left:511.02px;font-size:9px;line-height:9px;color:#333;letter-spacing:-0.06px;-webkit-text-stroke:0.3px #333">$5,256M</span>
<span style="top:431px;left:548.62px;font-size:9px;line-height:9px;letter-spacing:-0.08px">205 days</span>
<span style="top:431px;left:590.6px;font-size:9px;line-height:9px">8</span>
<span style="top:431px;left:599.6px;font-size:9px;line-height:9px">days</span>
<svg style="left:640.2px;top:428.9px" width="12" height="12" viewBox="0 0 12 12"><path d="M1 6 L5.2 10.2 L10.8 1.8" fill="none" stroke="#4fa34b" stroke-width="1.8"/></svg>
<span style="top:447px;left:317.2px;font-size:9px;line-height:9px;color:#999;letter-spacing:0.05px">Sed nec metus facilisis</span>
<span style="top:447px;right:526.83px;font-size:10px;line-height:10px;color:#9c9c9c;letter-spacing:-0.03px">9/27</span>
<span style="top:447px;left:511.02px;font-size:9px;line-height:9px;color:#333;letter-spacing:-0.06px;-webkit-text-stroke:0.3px #333">$4,850M</span>
<span style="top:447px;left:549.94px;font-size:9px;line-height:9px;letter-spacing:-0.08px">111 days</span>
<span style="top:447px;left:590.6px;font-size:9px;line-height:9px">1</span>
<span style="top:447px;left:599.6px;font-size:9px;line-height:9px">days</span>
<svg style="left:640.2px;top:444.3px" width="12" height="12" viewBox="0 0 12 12"><path d="M1 6 L5.2 10.2 L10.8 1.8" fill="none" stroke="#4fa34b" stroke-width="1.8"/></svg>
<span style="top:462px;left:317.2px;font-size:9px;line-height:9px;color:#999;letter-spacing:0.05px">Etiam laoreet, libero et</span>
<span style="top:462px;right:526.83px;font-size:10px;line-height:10px;color:#9c9c9c;letter-spacing:-0.03px">9/21</span>
<span style="top:462px;left:511.02px;font-size:9px;line-height:9px;color:#333;letter-spacing:-0.06px;-webkit-text-stroke:0.3px #333">$2,643M</span>
<span style="top:462px;left:549.28px;font-size:9px;line-height:9px;letter-spacing:-0.08px">110 days</span>
<span style="top:462px;left:590.6px;font-size:9px;line-height:9px">1</span>
<span style="top:462px;left:599.6px;font-size:9px;line-height:9px">days</span>
<svg style="left:640.2px;top:459.7px" width="12" height="12" viewBox="0 0 12 12"><path d="M1.4 1.4 L10.6 10.6 M10.6 1.4 L1.4 10.6" fill="none" stroke="#e25c5c" stroke-width="1.5"/></svg>
<span style="top:478px;left:317.2px;font-size:9px;line-height:9px;color:#999;letter-spacing:0.05px">lorem, sit amet ultricies</span>
<span style="top:478px;right:526.83px;font-size:10px;line-height:10px;color:#9c9c9c;letter-spacing:-0.03px">9/29</span>
<span style="top:478px;left:511.02px;font-size:9px;line-height:9px;color:#333;letter-spacing:-0.06px;-webkit-text-stroke:0.3px #333">$3,806M</span>
<span style="top:478px;left:549.94px;font-size:9px;line-height:9px;letter-spacing:-0.08px">111 days</span>
<span style="top:478px;left:590.6px;font-size:9px;line-height:9px">1</span>
<span style="top:478px;left:599.6px;font-size:9px;line-height:9px">days</span>
<svg style="left:640.2px;top:475.1px" width="12" height="12" viewBox="0 0 12 12"><path d="M1.4 1.4 L10.6 10.6 M10.6 1.4 L1.4 10.6" fill="none" stroke="#e25c5c" stroke-width="1.5"/></svg>
<span style="top:493px;left:317.2px;font-size:9px;line-height:9px;color:#999;letter-spacing:0.05px">tellus justo sit amet</span>
<span style="top:493px;right:526.83px;font-size:10px;line-height:10px;color:#9c9c9c;letter-spacing:-0.03px">9/27</span>
<span style="top:493px;left:511.02px;font-size:9px;line-height:9px;color:#333;letter-spacing:-0.06px;-webkit-text-stroke:0.3px #333">$1,320M</span>
<span style="top:493px;left:552px;font-size:9px;line-height:9px;letter-spacing:-0.08px">29 days</span>
<span style="top:493px;left:590.6px;font-size:9px;line-height:9px">8</span>
<span style="top:493px;left:599.6px;font-size:9px;line-height:9px">days</span>
<svg style="left:640.2px;top:490.5px" width="12" height="12" viewBox="0 0 12 12"><path d="M1 6 L5.2 10.2 L10.8 1.8" fill="none" stroke="#4fa34b" stroke-width="1.8"/></svg>
<span style="top:508px;left:317.2px;font-size:9px;line-height:9px;color:#999;letter-spacing:0.05px">Quisque varius. Nam porttitor</span>
<span style="top:508px;right:526.83px;font-size:10px;line-height:10px;color:#9c9c9c;letter-spacing:-0.03px">9/27</span>
<span style="top:508px;left:511.02px;font-size:9px;line-height:9px;color:#333;letter-spacing:-0.06px;-webkit-text-stroke:0.3px #333">$1,172M</span>
<span style="top:508px;left:553.55px;font-size:9px;line-height:9px;letter-spacing:-0.08px">82 days</span>
<span style="top:508px;left:593px;font-size:9px;line-height:9px">80</span>
<span style="top:508px;left:606.8px;font-size:9px;line-height:9px">days</span>
<svg style="left:640.2px;top:505.9px" width="12" height="12" viewBox="0 0 12 12"><path d="M1.4 1.4 L10.6 10.6 M10.6 1.4 L1.4 10.6" fill="none" stroke="#e25c5c" stroke-width="1.5"/></svg>
<span style="top:524px;left:317.2px;font-size:9px;line-height:9px;color:#999;letter-spacing:0.05px">sagittis lobortis mauris. Suspendisse</span>
<span style="top:524px;right:526.83px;font-size:10px;line-height:10px;color:#9c9c9c;letter-spacing:-0.03px">9/29</span>
<span style="top:524px;left:511.02px;font-size:9px;line-height:9px;color:#333;letter-spacing:-0.06px;-webkit-text-stroke:0.3px #333">$1,457M</span>
<span style="top:524px;left:548.62px;font-size:9px;line-height:9px;letter-spacing:-0.08px">261 days</span>
<span style="top:524px;left:593px;font-size:9px;line-height:9px">41</span>
<span style="top:524px;left:606.8px;font-size:9px;line-height:9px">days</span>
<svg style="left:640.2px;top:521.3px" width="12" height="12" viewBox="0 0 12 12"><path d="M1 6 L5.2 10.2 L10.8 1.8" fill="none" stroke="#4fa34b" stroke-width="1.8"/></svg>
<span style="top:539px;left:317.2px;font-size:9px;line-height:9px;color:#999;letter-spacing:0.05px">nunc est, mollis non,</span>
<span style="top:539px;right:526.83px;font-size:10px;line-height:10px;color:#9c9c9c;letter-spacing:-0.03px">9/29</span>
<span style="top:539px;left:511.02px;font-size:9px;line-height:9px;color:#333;letter-spacing:-0.06px;-webkit-text-stroke:0.3px #333">$1,339M</span>
<span style="top:539px;left:548.62px;font-size:9px;line-height:9px;letter-spacing:-0.08px">261 days</span>
<span style="top:539px;left:593px;font-size:9px;line-height:9px">41</span>
<span style="top:539px;left:606.8px;font-size:9px;line-height:9px">days</span>
<svg style="left:640.2px;top:536.7px" width="12" height="12" viewBox="0 0 12 12"><path d="M1.4 1.4 L10.6 10.6 M10.6 1.4 L1.4 10.6" fill="none" stroke="#e25c5c" stroke-width="1.5"/></svg>
<span style="top:555px;left:317.2px;font-size:9px;line-height:9px;color:#999;letter-spacing:0.05px">Vestibulum accumsan neque et</span>
<span style="top:555px;right:526.83px;font-size:10px;line-height:10px;color:#9c9c9c;letter-spacing:-0.03px">9/27</span>
<span style="top:555px;left:511.02px;font-size:9px;line-height:9px;color:#333;letter-spacing:-0.06px;-webkit-text-stroke:0.3px #333">$1,062M</span>
<span style="top:555px;left:548.62px;font-size:9px;line-height:9px;letter-spacing:-0.08px">261 days</span>
<span style="top:555px;left:590.6px;font-size:9px;line-height:9px">6</span>
<span style="top:555px;left:599.6px;font-size:9px;line-height:9px">days</span>
<svg style="left:640.2px;top:552.1px" width="12" height="12" viewBox="0 0 12 12"><path d="M1 6 L5.2 10.2 L10.8 1.8" fill="none" stroke="#4fa34b" stroke-width="1.8"/></svg>
<span style="top:570px;left:317.2px;font-size:9px;line-height:9px;color:#999;letter-spacing:0.05px">in aliquet lobortis, nisi</span>
<span style="top:570px;right:526.83px;font-size:10px;line-height:10px;color:#9c9c9c;letter-spacing:-0.03px">9/27</span>
<span style="top:570px;left:511.02px;font-size:9px;line-height:9px;color:#333;letter-spacing:-0.06px;-webkit-text-stroke:0.3px #333">$2,329M</span>
<span style="top:570px;left:553.55px;font-size:9px;line-height:9px;letter-spacing:-0.08px">84 days</span>
<span style="top:570px;left:590.6px;font-size:9px;line-height:9px">8</span>
<span style="top:570px;left:599.6px;font-size:9px;line-height:9px">days</span>
<svg style="left:640.2px;top:567.5px" width="12" height="12" viewBox="0 0 12 12"><path d="M1 6 L5.2 10.2 L10.8 1.8" fill="none" stroke="#4fa34b" stroke-width="1.8"/></svg>
<span style="top:585px;left:317.2px;font-size:9px;line-height:9px;color:#999;letter-spacing:0.05px">Aliquam ornare, libero at</span>
<span style="top:585px;right:526.83px;font-size:10px;line-height:10px;color:#9c9c9c;letter-spacing:-0.03px">9/27</span>
<span style="top:585px;left:511.02px;font-size:9px;line-height:9px;color:#333;letter-spacing:-0.06px;-webkit-text-stroke:0.3px #333">$2,325M</span>
<span style="top:585px;left:553.55px;font-size:9px;line-height:9px;letter-spacing:-0.08px">82 days</span>
<span style="top:585px;left:593px;font-size:9px;line-height:9px">71</span>
<span style="top:585px;left:606.8px;font-size:9px;line-height:9px">days</span>
<svg style="left:640.2px;top:582.9px" width="12" height="12" viewBox="0 0 12 12"><path d="M1.4 1.4 L10.6 10.6 M10.6 1.4 L1.4 10.6" fill="none" stroke="#e25c5c" stroke-width="1.5"/></svg>
<span style="top:601px;left:317.2px;font-size:9px;line-height:9px;color:#999;letter-spacing:0.05px">eget odio. Aliquam vulputate</span>
<span style="top:601px;right:526.83px;font-size:10px;line-height:10px;color:#9c9c9c;letter-spacing:-0.03px">9/27</span>
<span style="top:601px;left:511.5px;font-size:9px;line-height:9px;color:#333;letter-spacing:-0.07px;-webkit-text-stroke:0.3px #333">$978M</span>
<span style="top:601px;left:548.62px;font-size:9px;line-height:9px;letter-spacing:-0.08px">149 days</span>
<span style="top:601px;left:590.6px;font-size:9px;line-height:9px">1</span>
<span style="top:601px;left:599.6px;font-size:9px;line-height:9px">days</span>
<svg style="left:640.2px;top:598.3px" width="12" height="12" viewBox="0 0 12 12"><path d="M1 6 L5.2 10.2 L10.8 1.8" fill="none" stroke="#4fa34b" stroke-width="1.8"/></svg>
<span style="top:616px;left:317.2px;font-size:9px;line-height:9px;color:#999;letter-spacing:0.05px">vel lectus. Cum sociis</span>
<span style="top:616px;right:526.83px;font-size:10px;line-height:10px;color:#9c9c9c;letter-spacing:-0.03px">9/27</span>
<span style="top:616px;left:511.02px;font-size:9px;line-height:9px;color:#333;letter-spacing:-0.06px;-webkit-text-stroke:0.3px #333">$1,268M</span>
<span style="top:616px;left:552px;font-size:9px;line-height:9px;letter-spacing:-0.08px">5 days</span>
<span style="top:616px;left:590.6px;font-size:9px;line-height:9px">5</span>
<span style="top:616px;left:599.6px;font-size:9px;line-height:9px">days</span>
<svg style="left:640.2px;top:613.7px" width="12" height="12" viewBox="0 0 12 12"><path d="M1 6 L5.2 10.2 L10.8 1.8" fill="none" stroke="#4fa34b" stroke-width="1.8"/></svg>
<span style="top:632px;left:317.2px;font-size:9px;line-height:9px;color:#999;letter-spacing:0.05px">mattis. Cras eget nisi</span>
<span style="top:632px;right:526.83px;font-size:10px;line-height:10px;color:#9c9c9c;letter-spacing:-0.03px">9/27</span>
<span style="top:632px;left:511.3px;font-size:9px;line-height:9px;color:#333;letter-spacing:-0.07px;-webkit-text-stroke:0.3px #333">$750M</span>
<span style="top:632px;left:552px;font-size:9px;line-height:9px;letter-spacing:-0.08px">28 days</span>
<span style="top:632px;left:590.6px;font-size:9px;line-height:9px">1</span>
<span style="top:632px;left:599.6px;font-size:9px;line-height:9px">days</span>
<svg style="left:640.2px;top:629.1px" width="12" height="12" viewBox="0 0 12 12"><path d="M1 6 L5.2 10.2 L10.8 1.8" fill="none" stroke="#4fa34b" stroke-width="1.8"/></svg>
<span style="top:647px;left:317.2px;font-size:9px;line-height:9px;color:#999;letter-spacing:0.05px">tempor lorem, eget mollis</span>
<span style="top:647px;right:526.83px;font-size:10px;line-height:10px;color:#9c9c9c;letter-spacing:-0.03px">9/28</span>
<span style="top:647px;left:511.3px;font-size:9px;line-height:9px;color:#333;letter-spacing:-0.07px;-webkit-text-stroke:0.3px #333">$832M</span>
<span style="top:647px;left:548.62px;font-size:9px;line-height:9px;letter-spacing:-0.08px">261 days</span>
<span style="top:647px;left:590.6px;font-size:9px;line-height:9px">2</span>
<span style="top:647px;left:599.6px;font-size:9px;line-height:9px">days</span>
<svg style="left:640.2px;top:644.5px" width="12" height="12" viewBox="0 0 12 12"><path d="M1 6 L5.2 10.2 L10.8 1.8" fill="none" stroke="#4fa34b" stroke-width="1.8"/></svg>
<span style="top:662px;left:317.2px;font-size:9px;line-height:9px;color:#999;letter-spacing:0.05px">Nullam feugiat placerat velit.</span>
<span style="top:662px;right:526.83px;font-size:10px;line-height:10px;color:#9c9c9c;letter-spacing:-0.03px">9/27</span>
<span style="top:662px;left:511.02px;font-size:9px;line-height:9px;color:#333;letter-spacing:-0.06px;-webkit-text-stroke:0.3px #333">$1,534M</span>
<span style="top:662px;left:553.55px;font-size:9px;line-height:9px;letter-spacing:-0.08px">78 days</span>
<span style="top:662px;left:590.6px;font-size:9px;line-height:9px">2</span>
<span style="top:662px;left:599.6px;font-size:9px;line-height:9px">days</span>
<svg style="left:640.2px;top:659.9px" width="12" height="12" viewBox="0 0 12 12"><path d="M1.4 1.4 L10.6 10.6 M10.6 1.4 L1.4 10.6" fill="none" stroke="#e25c5c" stroke-width="1.5"/></svg>
<span style="top:678px;left:317.2px;font-size:9px;line-height:9px;color:#999;letter-spacing:0.05px">mauris sagittis placerat. Cras</span>
<span style="top:678px;right:526.83px;font-size:10px;line-height:10px;color:#9c9c9c;letter-spacing:-0.03px">9/27</span>
<span style="top:678px;left:511.3px;font-size:9px;line-height:9px;color:#333;letter-spacing:-0.07px;-webkit-text-stroke:0.3px #333">$761M</span>
<span style="top:678px;left:553.55px;font-size:9px;line-height:9px;letter-spacing:-0.08px">96 days</span>
<span style="top:678px;left:590.6px;font-size:9px;line-height:9px">1</span>
<span style="top:678px;left:599.6px;font-size:9px;line-height:9px">days</span>
<svg style="left:640.2px;top:675.3px" width="12" height="12" viewBox="0 0 12 12"><path d="M1 6 L5.2 10.2 L10.8 1.8" fill="none" stroke="#4fa34b" stroke-width="1.8"/></svg>
<span style="top:693px;left:317.2px;font-size:9px;line-height:9px;color:#999;letter-spacing:0.05px">lorem, auctor quis, tristique</span>
<span style="top:693px;right:526.83px;font-size:10px;line-height:10px;color:#9c9c9c;letter-spacing:-0.03px">9/29</span>
<span style="top:693px;left:511.3px;font-size:9px;line-height:9px;color:#333;letter-spacing:-0.07px;-webkit-text-stroke:0.3px #333">$464M</span>
<span style="top:693px;left:548.62px;font-size:9px;line-height:9px;letter-spacing:-0.08px">261 days</span>
<span style="top:693px;left:593px;font-size:9px;line-height:9px">80</span>
<span style="top:693px;left:606.8px;font-size:9px;line-height:9px">days</span>
<svg style="left:640.2px;top:690.7px" width="12" height="12" viewBox="0 0 12 12"><path d="M1.4 1.4 L10.6 10.6 M10.6 1.4 L1.4 10.6" fill="none" stroke="#e25c5c" stroke-width="1.5"/></svg>
<span style="top:709px;left:317.2px;font-size:9px;line-height:9px;color:#999;letter-spacing:0.05px">faucibus ut, nulla. Cras</span>
<span style="top:709px;right:526.83px;font-size:10px;line-height:10px;color:#9c9c9c;letter-spacing:-0.03px">9/21</span>
<span style="top:709px;left:511.02px;font-size:9px;line-height:9px;color:#333;letter-spacing:-0.06px;-webkit-text-stroke:0.3px #333">$2,599M</span>
<span style="top:709px;left:552px;font-size:9px;line-height:9px;letter-spacing:-0.08px">19 days</span>
<span style="top:709px;left:590.6px;font-size:9px;line-height:9px">5</span>
<span style="top:709px;left:599.6px;font-size:9px;line-height:9px">days</span>
<svg style="left:640.2px;top:706.1px" width="12" height="12" viewBox="0 0 12 12"><path d="M1 6 L5.2 10.2 L10.8 1.8" fill="none" stroke="#4fa34b" stroke-width="1.8"/></svg>
</div></div>
<div style="left:667.5px;top:412px;width:12.2px;height:311px;background:#fff;box-sizing:border-box;border:1px solid #cfcfcf"></div>
<span style="top:734px;left:507.4px;font-size:9.3px;line-height:9.3px;letter-spacing:-0.03px;-webkit-text-stroke:0.2px #555">Amplified</span>
<span style="top:746px;left:510.6px;font-size:9.3px;line-height:9.3px;letter-spacing:-0.33px;-webkit-text-stroke:0.2px #555">Booking</span>
<span style="top:734px;left:552.65px;font-size:9.3px;line-height:9.3px;letter-spacing:0.08px;-webkit-text-stroke:0.2px #555">Age of</span>
<span style="top:746px;left:556.9px;font-size:9.3px;line-height:9.3px;letter-spacing:-0.11px;-webkit-text-stroke:0.2px #555">Deal</span>
<span style="top:734px;left:595.95px;font-size:9.3px;line-height:9.3px;letter-spacing:-0.23px;-webkit-text-stroke:0.2px #555">Days</span>
<span style="top:746px;left:586.35px;font-size:9.3px;line-height:9.3px;letter-spacing:-0.18px;-webkit-text-stroke:0.2px #555">Since La..</span>
<span style="top:734px;left:635.8px;font-size:9.3px;line-height:9.3px;letter-spacing:0.29px;-webkit-text-stroke:0.2px #555">Next</span>
<span style="top:746px;left:633.85px;font-size:9.3px;line-height:9.3px;letter-spacing:-0.1px;-webkit-text-stroke:0.2px #555">Step?</span>
</section>
<section aria-label="timeline">
<span style="top:125px;right:288px;font-size:9px;line-height:9px;color:#aaa">200B</span>
<span style="top:150px;right:288px;font-size:9px;line-height:9px;color:#aaa">100B</span>
<span style="top:169px;right:288px;font-size:9px;line-height:9px;color:#aaa">0B</span>
<span style="top:182px;right:288px;font-size:9px;line-height:9px;color:#aaa">80B</span>
<span style="top:197px;right:288px;font-size:9px;line-height:9px;color:#aaa">60B</span>
<span style="top:211px;right:288px;font-size:9px;line-height:9px;color:#aaa">40B</span>
<span style="top:226px;right:288px;font-size:9px;line-height:9px;color:#aaa">20B</span>
<span style="top:116px;left:939.98px;font-size:9px;line-height:9px">$206,053M</span>
<span style="top:181px;left:942.78px;font-size:9px;line-height:9px">$70,343M</span>
<span style="top:167px;left:784.74px;font-size:9px;line-height:9px">$77M</span>
<span style="top:167px;left:868.74px;font-size:9px;line-height:9px">$99M</span>
<span style="top:233px;left:784.74px;font-size:9px;line-height:9px">$19M</span>
<span style="top:233px;left:868.74px;font-size:9px;line-height:9px">$50M</span>
<span style="top:252px;left:745.85px;font-size:9px;line-height:9px;color:#aaa;letter-spacing:0.1px">July</span>
<span style="top:252px;left:823.24px;font-size:9px;line-height:9px;color:#aaa;letter-spacing:0.1px">August</span>
<span style="top:252px;left:899.39px;font-size:9px;line-height:9px;color:#aaa;letter-spacing:0.1px">September</span>
<span style="top:252px;left:981.39px;font-size:9px;line-height:9px;color:#aaa;letter-spacing:0.1px">October</span>
<span style="left:676.99px;top:139.3px;width:42.62px;text-align:center;font-size:9px;line-height:9px;color:#555;letter-spacing:0.2px;transform:rotate(-90deg);-webkit-text-stroke:0.25px #555">Amplified</span>
<span style="left:691.94px;top:139.5px;width:36.53px;text-align:center;font-size:9px;line-height:9px;color:#555;letter-spacing:0px;transform:rotate(-90deg);-webkit-text-stroke:0.25px #555">Booking</span>
<span style="left:677.54px;top:205.5px;width:41.53px;text-align:center;font-size:9px;line-height:9px;color:#555;letter-spacing:0px;transform:rotate(-90deg);-webkit-text-stroke:0.25px #555">Expected</span>
<span style="left:691.94px;top:205.5px;width:36.53px;text-align:center;font-size:9px;line-height:9px;color:#555;letter-spacing:0px;transform:rotate(-90deg);-webkit-text-stroke:0.25px #555">Booking</span>
</section>
<section aria-label="calendar">
<span style="top:299px;left:900.54px;font-size:9.8px;line-height:9.8px;color:#4a4a4a">5</span>
<span style="top:312px;left:893.74px;font-size:9.8px;line-height:9.8px;color:#4a4a4a">$9M</span>
<span style="top:335px;left:751.64px;font-size:9.8px;line-height:9.8px;color:#4a4a4a">9</span>
<span style="top:348px;left:744.84px;font-size:9.8px;line-height:9.8px;color:#4a4a4a">$2M</span>
<span style="top:371px;left:897.82px;font-size:9.8px;line-height:9.8px;color:#4a4a4a">19</span>
<span style="top:384px;left:893.74px;font-size:9.8px;line-height:9.8px;color:#4a4a4a">$1M</span>
<span style="top:407px;left:895.09px;font-size:9.8px;line-height:9.8px;color:#4a4a4a">26</span>
<span style="top:420px;left:888.28px;font-size:9.8px;line-height:9.8px;color:#4a4a4a">$29M</span>
<span style="top:407px;left:944.69px;font-size:9.8px;line-height:9.8px;color:#4a4a4a">27</span>
<span style="top:420px;left:937.88px;font-size:9.8px;line-height:9.8px;color:#4a4a4a">$35M</span>
<span style="top:443px;left:850.94px;font-size:9.8px;line-height:9.8px;color:#4a4a4a">1</span>
<span style="top:457px;left:844.14px;font-size:9.8px;line-height:9.8px;color:#4a4a4a">$0M</span>
<span style="top:443px;left:900.54px;font-size:9.8px;line-height:9.8px;color:#4a4a4a">2</span>
<span style="top:457px;left:893.74px;font-size:9.8px;line-height:9.8px;color:#4a4a4a">$1M</span>
<span style="top:479px;left:900.54px;font-size:9.8px;line-height:9.8px;color:#4a4a4a">9</span>
<span style="top:493px;left:893.74px;font-size:9.8px;line-height:9.8px;color:#4a4a4a">$6M</span>
<span style="top:515px;left:897.82px;font-size:9.8px;line-height:9.8px;color:#4a4a4a">16</span>
<span style="top:529px;left:893.74px;font-size:9.8px;line-height:9.8px;color:#4a4a4a">$0M</span>
<span style="top:515px;left:947.42px;font-size:9.8px;line-height:9.8px;color:#4a4a4a">17</span>
<span style="top:529px;left:943.34px;font-size:9.8px;line-height:9.8px;color:#4a4a4a">$5M</span>
<span style="top:551px;left:848.22px;font-size:9.8px;line-height:9.8px;color:#4a4a4a">22</span>
<span style="top:565px;left:844.14px;font-size:9.8px;line-height:9.8px;color:#4a4a4a">$1M</span>
<span style="top:551px;left:897.82px;font-size:9.8px;line-height:9.8px;color:#4a4a4a">23</span>
<span style="top:565px;left:893.74px;font-size:9.8px;line-height:9.8px;color:#4a4a4a">$1M</span>
<span style="top:551px;left:996.82px;font-size:9.8px;line-height:9.8px;color:#4a4a4a">25</span>
<span style="top:565px;left:992.74px;font-size:9.8px;line-height:9.8px;color:#4a4a4a">$1M</span>
<span style="top:587px;left:798.52px;font-size:9.8px;line-height:9.8px;color:#4a4a4a">28</span>
<span style="top:601px;left:794.44px;font-size:9.8px;line-height:9.8px;color:#4a4a4a">$1M</span>
<span style="top:587px;left:848.22px;font-size:9.8px;line-height:9.8px;color:#4a4a4a">29</span>
<span style="top:601px;left:844.14px;font-size:9.8px;line-height:9.8px;color:#4a4a4a">$0M</span>
<span style="top:587px;left:897.82px;font-size:9.8px;line-height:9.8px;color:#4a4a4a">30</span>
<span style="top:601px;left:893.74px;font-size:9.8px;line-height:9.8px;color:#4a4a4a">$4M</span>
<span style="top:587px;left:944.69px;font-size:9.8px;line-height:9.8px;color:#4a4a4a">31</span>
<span style="top:601px;left:937.88px;font-size:9.8px;line-height:9.8px;color:#4a4a4a">$79M</span>
<span style="top:624px;left:895.09px;font-size:9.8px;line-height:9.8px;color:#4a4a4a">6</span>
<span style="top:637px;left:882.83px;font-size:9.8px;line-height:9.8px;color:#4a4a4a">$108M</span>
<span style="top:624px;left:950.14px;font-size:9.8px;line-height:9.8px;color:#4a4a4a">7</span>
<span style="top:637px;left:943.34px;font-size:9.8px;line-height:9.8px;color:#4a4a4a">$1M</span>
<span style="top:660px;left:748.92px;font-size:9.8px;line-height:9.8px;color:#4a4a4a">10</span>
<span style="top:673px;left:744.84px;font-size:9.8px;line-height:9.8px;color:#4a4a4a">$0M</span>
<span style="top:660px;left:798.88px;font-size:9.8px;line-height:9.8px;color:#4a4a4a">11</span>
<span style="top:673px;left:794.44px;font-size:9.8px;line-height:9.8px;color:#4a4a4a">$1M</span>
<span style="top:660px;left:845.49px;font-size:9.8px;line-height:9.8px;color:#4a4a4a">12</span>
<span style="top:673px;left:838.68px;font-size:9.8px;line-height:9.8px;color:#4a4a4a">$17M</span>
<span style="top:660px;left:895.09px;font-size:9.8px;line-height:9.8px;color:#4a4a4a">13</span>
<span style="top:673px;left:888.28px;font-size:9.8px;line-height:9.8px;color:#4a4a4a">$59M</span>
<span style="top:660px;left:941.97px;font-size:9.8px;line-height:9.8px;color:#4a4a4a">14</span>
<span style="top:673px;left:932.43px;font-size:9.8px;line-height:9.8px;color:#4a4a4a">$133M</span>
<span style="top:696px;left:746.19px;font-size:9.8px;line-height:9.8px;color:#4a4a4a">17</span>
<span style="top:709px;left:739.38px;font-size:9.8px;line-height:9.8px;color:#4a4a4a">$83M</span>
<span style="top:696px;left:793.07px;font-size:9.8px;line-height:9.8px;color:#4a4a4a">18</span>
<span style="top:709px;left:783.53px;font-size:9.8px;line-height:9.8px;color:#4a4a4a">$670M</span>
<span style="top:696px;left:842.77px;font-size:9.8px;line-height:9.8px;color:#4a4a4a">19</span>
<span style="top:709px;left:833.23px;font-size:9.8px;line-height:9.8px;color:#4a4a4a">$583M</span>
<span style="top:696px;left:892.37px;font-size:9.8px;line-height:9.8px;color:#4a4a4a">20</span>
<span style="top:709px;left:882.83px;font-size:9.8px;line-height:9.8px;color:#4a4a4a">$458M</span>
<span style="top:696px;left:935.15px;font-size:9.8px;line-height:9.8px;color:#4a4a4a">21</span>
<span style="top:709px;left:918.81px;font-size:9.8px;line-height:9.8px;color:#4a4a4a">$17,989M</span>
<span style="top:696px;left:994.09px;font-size:9.8px;line-height:9.8px;color:#4a4a4a">22</span>
<span style="top:709px;left:987.28px;font-size:9.8px;line-height:9.8px;color:#4a4a4a">$48M</span>
<span style="top:732px;left:736.65px;font-size:9.8px;line-height:9.8px;color:#4a4a4a">24</span>
<span style="top:745px;left:720.31px;font-size:9.8px;line-height:9.8px;color:#4a4a4a">$12,329M</span>
<span style="top:732px;left:788.98px;font-size:9.8px;line-height:9.8px;color:#4a4a4a">25</span>
<span style="top:745px;left:775.36px;font-size:9.8px;line-height:9.8px;color:#4a4a4a">$5,358M</span>
<span style="top:732px;left:838.68px;font-size:9.8px;line-height:9.8px;color:#4a4a4a">26</span>
<span style="top:745px;left:825.06px;font-size:9.8px;line-height:9.8px;color:#4a4a4a">$7,702M</span>
<span style="top:732px;left:885.55px;font-size:9.8px;line-height:9.8px;color:#e4e4e4">27</span>
<span style="top:745px;left:869.21px;font-size:9.8px;line-height:9.8px;color:#e4e4e4">$82,135M</span>
<span style="top:732px;left:935.15px;font-size:9.8px;line-height:9.8px;color:#4a4a4a">28</span>
<span style="top:745px;left:918.81px;font-size:9.8px;line-height:9.8px;color:#4a4a4a">$15,515M</span>
<span style="top:732px;left:984.55px;font-size:9.8px;line-height:9.8px;color:#eee">29</span>
<span style="top:745px;left:968.21px;font-size:9.8px;line-height:9.8px;color:#eee">$61,668M</span>
<span style="top:280px;left:733.4px;font-size:9px;line-height:9px;color:#4a4a4a;letter-spacing:0.1px">Mon</span>
<span style="top:280px;left:784.21px;font-size:9px;line-height:9px;color:#4a4a4a;letter-spacing:0.1px">Tue</span>
<span style="top:280px;left:832.28px;font-size:9px;line-height:9px;color:#4a4a4a;letter-spacing:0.1px">Wed</span>
<span style="top:280px;left:883.35px;font-size:9px;line-height:9px;color:#4a4a4a;letter-spacing:0.1px">Thu</span>
<span style="top:280px;left:935.45px;font-size:9px;line-height:9px;color:#4a4a4a;letter-spacing:0.1px">Fri</span>
<span style="top:280px;left:983.45px;font-size:9px;line-height:9px;color:#4a4a4a;letter-spacing:0.1px">Sat</span>
<span style="left:700.92px;top:359.76px;width:20.76px;text-align:center;font-size:9px;line-height:9px;color:#333;letter-spacing:0.25px;transform:rotate(-90deg);-webkit-text-stroke:0.15px #333">July</span>
<span style="left:694.66px;top:521.89px;width:33.27px;text-align:center;font-size:9px;line-height:9px;color:#333;letter-spacing:0.25px;transform:rotate(-90deg);-webkit-text-stroke:0.15px #333">August</span>
<span style="left:686.29px;top:684.03px;width:50.03px;text-align:center;font-size:9px;line-height:9px;color:#333;letter-spacing:0.25px;transform:rotate(-90deg);-webkit-text-stroke:0.15px #333">September</span>
</section>
</body>
</html>
